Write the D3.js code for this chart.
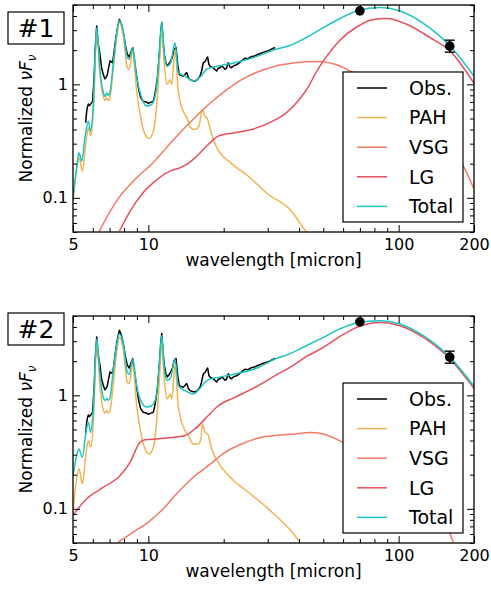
<!DOCTYPE html>
<html>
<head>
<meta charset="utf-8">
<script src="https://cdn.jsdelivr.net/npm/d3@7"></script>
<style>
  body { margin: 0; background: #fff; }
  svg { display: block; font-family: "DejaVu Sans", sans-serif; }
</style>
</head>
<body>
<svg id="chart" width="491" height="593"></svg>
<script>
// ---------------- data ----------------
const seriesNames = ["Obs.", "PAH", "VSG", "LG", "Total"];
const xTickValues = [5, 10, 100, 200];
const xTickLabels = ["5", "10", "100", "200"];
const xMinorTicks = [6, 7, 8, 9, 20, 30, 40, 50, 60, 70, 80, 90];
const yTickValues = [0.1, 1];
const yTickLabels = ["0.1", "1"];
const yMinorTicks = [0.05, 0.06, 0.07, 0.08, 0.09, 0.2, 0.3, 0.4, 0.5, 0.6, 0.7, 0.8, 0.9, 2, 3, 4, 5];

// observed spectrum [wavelength micron, normalized nuFnu] (same object in both panels)
const obsSpectrum = [
  [5.62,0.46],[5.67,0.58],[5.72,0.64],[5.76,0.67],[5.82,0.65],[5.88,0.67],[5.94,0.69],[5.99,0.71],
  [6.07,1.15],[6.15,2.3],[6.22,3.27],[6.3,2.3],[6.41,1.84],[6.5,1.4],[6.61,1.22],[6.7,1.12],[6.77,1.15],
  [6.85,1.2],[6.92,1.36],[7.03,1.61],[7.12,1.58],[7.2,1.55],[7.36,2.25],[7.5,3.0],[7.66,3.75],[7.8,3.4],
  [7.94,2.86],[8.1,2.2],[8.24,1.84],[8.39,1.74],[8.5,1.9],[8.66,2.11],[8.8,1.6],[8.98,1.18],[9.15,0.9],
  [9.32,0.76],[9.54,0.71],[9.8,0.7],[10.0,0.68],[10.15,0.69],[10.3,0.7],[10.47,0.71],[10.6,0.8],
  [10.73,0.935],[10.9,1.2],[11.06,1.84],[11.2,2.8],[11.31,3.5],[11.45,2.4],[11.58,1.84],[11.75,1.55],
  [11.9,1.45],[12.05,1.5],[12.28,1.61],[12.5,1.75],[12.7,2.05],[12.9,2.11],[13.1,1.5],[13.29,1.22],
  [13.5,1.2],[13.79,1.18],[14.0,1.22],[14.23,1.27],[14.45,1.15],[14.67,1.1],[15.0,1.08],[15.36,1.07],
  [15.7,1.1],[16.08,1.18],[16.3,1.3],[16.58,1.55],[16.9,1.6],[17.1,1.7],[17.26,1.74],[17.45,1.5],
  [17.63,1.45],[17.9,1.42],[18.18,1.4],[18.45,1.35],[18.75,1.31],[19.0,1.38],[19.3,1.4],[19.64,1.45],
  [19.9,1.42],[20.2,1.36],[20.5,1.38],[20.87,1.55],[21.2,1.42],[21.5,1.4],[21.9,1.46],[22.4,1.48],
  [22.88,1.52],[23.5,1.6],[24.33,1.7],[25.0,1.68],[25.9,1.76],[26.6,1.78],[27.5,1.84],[28.5,1.9],
  [29.5,1.95],[30.5,2.0],[31.3,2.06],[32.06,2.11]
];
// photometry points
const photWave = [70, 160];
const photFlux = [4.44, 2.17];
const photErrLow = [4.44, 1.92];
const photErrHigh = [4.44, 2.45];

// panel #1 model components
const pah1 = [
  [5.0,0.095],[5.17,0.178],[5.29,0.225],[5.45,0.172],[5.62,0.296],[5.76,0.415],[5.88,0.35],[6.03,0.58],
  [6.22,2.95],[6.41,1.2],[6.61,0.78],[6.72,0.72],[6.82,0.76],[6.92,0.72],[7.03,0.77],[7.24,1.36],
  [7.47,2.58],[7.66,3.5],[7.94,2.67],[8.24,1.4],[8.39,1.36],[8.66,1.97],[8.98,0.873],[9.32,0.51],
  [9.7,0.362],[10.06,0.334],[10.47,0.387],[10.86,0.763],[11.13,1.84],[11.31,3.1],[11.58,1.5],[11.9,1.0],
  [12.2,1.1],[12.4,1.0],[12.78,2.03],[13.17,0.873],[13.38,0.71],[13.7,0.6],[14.01,0.54],[14.3,0.5],
  [14.67,0.42],[15.36,0.4],[15.93,0.43],[16.43,0.6],[16.84,0.52],[17.11,0.51],[17.91,0.36],[18.75,0.278],
  [21.53,0.2],[25.08,0.155],[30.15,0.107],[36.81,0.079],[42.92,0.05],[45,0.045]
];
const vsg1 = [
  [6.35,0.05],[7.03,0.076],[7.7,0.103],[8.98,0.15],[10.47,0.205],[12.2,0.3],[13.38,0.375],[15.36,0.51],
  [17.36,0.66],[20.24,0.87],[23.6,1.1],[29.25,1.36],[38.55,1.55],[47.05,1.59],[58.3,1.45],[63.9,1.31],
  [80,1.08],[100,0.8],[130,0.5],[160,0.29],[181.3,0.19],[200,0.12]
];
const lg1 = [
  [7.66,0.0508],[8.45,0.076],[9.4,0.107],[10.47,0.136],[12.2,0.172],[13.38,0.184],[14.23,0.197],
  [15.36,0.225],[17.36,0.295],[19.03,0.35],[22.19,0.375],[25.88,0.4],[31.11,0.47],[35.15,0.55],
  [36.81,0.6],[40.36,0.75],[42.92,0.9],[47.05,1.3],[50,1.6],[58.3,2.45],[68,3.2],[79.2,3.72],
  [89.6,3.8],[107.7,3.38],[133.5,2.58],[160.4,1.97],[200,1.02]
];
const total1 = [
  [5.0,0.1],[5.17,0.184],[5.28,0.25],[5.42,0.21],[5.58,0.338],[5.76,0.474],[5.88,0.387],[6.03,0.666],
  [6.22,3.16],[6.41,1.31],[6.61,0.85],[6.72,0.78],[6.82,0.84],[6.92,0.8],[7.03,0.86],[7.24,1.5],
  [7.47,2.76],[7.66,3.67],[7.94,2.95],[8.24,1.72],[8.39,1.66],[8.66,2.11],[8.98,1.15],[9.4,0.763],
  [9.85,0.643],[10.31,0.666],[10.73,0.873],[11.06,1.84],[11.31,3.5],[11.58,1.84],[11.9,1.45],[12.28,1.55],
  [12.78,2.33],[13.17,1.27],[14.01,1.18],[15.12,1.07],[16.23,1.18],[17.11,1.36],[19.03,1.45],[22.19,1.55],
  [27.5,1.78],[32.06,2.03],[36.81,2.2],[42.92,2.6],[50,3.16],[58.3,3.8],[68,4.43],[84.2,4.75],
  [101.2,4.43],[125.5,3.45],[160.4,2.18],[200,1.18]
];

// panel #2 model components
const pah2 = [
  [5.0,0.095],[5.17,0.184],[5.29,0.225],[5.45,0.166],[5.62,0.294],[5.76,0.399],[5.88,0.35],[6.03,0.578],
  [6.22,2.93],[6.41,1.2],[6.61,0.74],[6.72,0.7],[6.82,0.73],[6.92,0.7],[7.03,0.74],[7.24,1.22],
  [7.47,2.39],[7.66,3.25],[7.94,2.56],[8.24,1.3],[8.39,1.27],[8.66,1.89],[8.98,0.81],[9.32,0.472],
  [9.7,0.337],[10.06,0.305],[10.47,0.349],[10.86,0.708],[11.13,1.71],[11.31,2.95],[11.58,1.39],[11.9,0.93],
  [12.2,1.03],[12.4,0.93],[12.78,1.83],[13.17,0.81],[13.38,0.66],[14.01,0.489],[14.44,0.442],[15.12,0.373],
  [15.83,0.373],[16.23,0.413],[16.43,0.56],[16.84,0.472],[17.26,0.457],[17.91,0.337],[19.03,0.257],
  [21.53,0.184],[25.08,0.14],[30.15,0.1],[38.55,0.058],[41,0.048]
];
const vsg2 = [
  [7.58,0.0508],[8.71,0.0623],[10.0,0.0764],[11.48,0.1],[12.78,0.131],[14.9,0.184],[17.36,0.24],
  [20.24,0.315],[23.6,0.373],[28.38,0.427],[38.55,0.457],[44.25,0.47],[50,0.457],[60.1,0.386],
  [80,0.3],[100,0.215],[125,0.14],[145,0.095],[155.6,0.0713],[165.3,0.0508]
];
const lg2 = [
  [5.0,0.088],[5.67,0.1225],[6.61,0.155],[7.7,0.196],[8.45,0.257],[9.26,0.386],[9.7,0.407],[10.8,0.413],
  [13.38,0.433],[14.01,0.442],[15.36,0.506],[17.36,0.663],[19.03,0.81],[22.19,0.96],[27.5,1.22],
  [32.06,1.49],[36.81,1.76],[42.92,2.2],[50,2.64],[58.3,3.3],[68,3.97],[84.2,4.39],[101.2,4.1],
  [125.5,3.24],[160.4,2.09],[200,1.15]
];
const total2 = [
  [5.0,0.195],[5.17,0.294],[5.28,0.337],[5.45,0.285],[5.62,0.457],[5.76,0.578],[5.88,0.472],[6.03,0.759],
  [6.22,3.14],[6.41,1.49],[6.61,0.95],[6.72,0.9],[6.82,0.94],[6.92,0.9],[7.03,0.95],[7.24,1.65],
  [7.47,2.74],[7.66,3.47],[7.94,2.84],[8.24,1.59],[8.39,1.53],[8.66,2.09],[8.98,1.22],[9.4,0.868],
  [9.85,0.79],[10.31,0.81],[10.73,0.96],[11.06,1.83],[11.31,3.35],[11.58,1.71],[11.9,1.35],[12.28,1.44],
  [12.78,2.09],[13.17,1.22],[14.01,1.1],[15.12,1.03],[16.23,1.18],[17.11,1.35],[19.03,1.44],[22.19,1.54],
  [27.5,1.76],[32.06,2.09],[36.81,2.33],[42.92,2.75],[50,3.24],[58.3,3.85],[68,4.34],[84.2,4.54],
  [101.2,4.25],[125.5,3.35],[160.4,2.16],[200,1.2]
];

// ---------------- drawing ----------------
const colors = { "Obs.": "#000000", "PAH": "#f3b352", "VSG": "#f47a64", "LG": "#ea4f5c", "Total": "#1cc5c0" };
const svg = d3.select("#chart");
const plotLeft = 73, plotRight = 474, plotH = 227;
const x = d3.scaleLog().domain([5, 200]).range([plotLeft, plotRight]);

const panels = [
  { tag: "#1", top: 5, tagTop: 12, legendTop: 72, pah: pah1, vsg: vsg1, lg: lg1, total: total1 },
  { tag: "#2", top: 316, tagTop: 313, legendTop: 383, pah: pah2, vsg: vsg2, lg: lg2, total: total2 }
];

panels.forEach((p, i) => {
  const y = d3.scaleLog().domain([0.05, 5]).range([p.top + plotH, p.top]);
  const g = svg.append("g");
  const cid = "clip" + i;
  svg.append("clipPath").attr("id", cid).append("rect")
    .attr("x", plotLeft).attr("y", p.top).attr("width", plotRight - plotLeft).attr("height", plotH);

  const smooth = d3.line().x(d => x(d[0])).y(d => y(d[1])).curve(d3.curveMonotoneX);
  const straight = d3.line().x(d => x(d[0])).y(d => y(d[1]));

  const plot = g.append("g").attr("clip-path", `url(#${cid})`);
  const drawn = [
    ["Obs.", obsSpectrum, straight],
    ["PAH", p.pah, smooth],
    ["VSG", p.vsg, smooth],
    ["LG", p.lg, smooth],
    ["Total", p.total, smooth]
  ];
  drawn.forEach(([name, data, gen]) => {
    plot.append("path").datum(data).attr("d", gen)
      .attr("fill", "none").attr("stroke", colors[name])
      .attr("stroke-width", 1.5)
      .attr("stroke-linejoin", "round");
  });

  // photometry with error bars
  photWave.forEach((w, k) => {
    const px = x(w);
    if (photErrHigh[k] > photErrLow[k]) {
      g.append("line").attr("x1", px).attr("x2", px)
        .attr("y1", y(photErrLow[k])).attr("y2", y(photErrHigh[k]))
        .attr("stroke", "#000").attr("stroke-width", 1.4);
      [photErrLow[k], photErrHigh[k]].forEach(v => {
        g.append("line").attr("x1", px - 5).attr("x2", px + 5)
          .attr("y1", y(v)).attr("y2", y(v)).attr("stroke", "#000").attr("stroke-width", 1.4);
      });
    }
    g.append("circle").attr("cx", px).attr("cy", y(photFlux[k])).attr("r", 4.8).attr("fill", "#000");
  });

  // axes (ticks inward on all sides)
  const bottomY = p.top + plotH;
  const addAxis = (axis, tx, ty) => {
    const a = g.append("g").attr("transform", `translate(${tx},${ty})`).call(axis);
    a.select(".domain").remove();
    a.selectAll("line").attr("stroke", "#000").attr("stroke-width", 1);
    a.selectAll("text").attr("font-size", 16).attr("fill", "#000").attr("font-family", "DejaVu Sans, sans-serif");
    return a;
  };
  addAxis(d3.axisBottom(x).tickValues(xTickValues).tickFormat((d, j) => xTickLabels[j]).tickSize(-7).tickPadding(7), 0, bottomY);
  addAxis(d3.axisBottom(x).tickValues(xMinorTicks).tickFormat("").tickSize(-4), 0, bottomY);
  addAxis(d3.axisTop(x).tickValues(xTickValues).tickFormat("").tickSize(-7), 0, p.top);
  addAxis(d3.axisTop(x).tickValues(xMinorTicks).tickFormat("").tickSize(-4), 0, p.top);
  addAxis(d3.axisLeft(y).tickValues(yTickValues).tickFormat((d, j) => yTickLabels[j]).tickSize(-7).tickPadding(5), plotLeft, 0);
  addAxis(d3.axisLeft(y).tickValues(yMinorTicks).tickFormat("").tickSize(-4), plotLeft, 0);
  addAxis(d3.axisRight(y).tickValues(yTickValues).tickFormat("").tickSize(-7), plotRight, 0);
  addAxis(d3.axisRight(y).tickValues(yMinorTicks).tickFormat("").tickSize(-4), plotRight, 0);

  // frame
  g.append("rect").attr("x", plotLeft).attr("y", p.top)
    .attr("width", plotRight - plotLeft).attr("height", plotH)
    .attr("fill", "none").attr("stroke", "#000").attr("stroke-width", 1.3);

  // axis labels
  g.append("text").attr("x", (plotLeft + plotRight) / 2).attr("y", bottomY + 34)
    .attr("text-anchor", "middle").attr("font-size", 17).text("wavelength [micron]");
  const yl = g.append("text")
    .attr("transform", `translate(31.5,${p.top + plotH / 2}) rotate(-90)`)
    .attr("text-anchor", "middle").attr("font-size", 17);
  yl.append("tspan").text("Normalized ");
  yl.append("tspan").attr("font-style", "italic").text("νF");
  yl.append("tspan").attr("font-style", "italic").attr("font-size", 12).attr("dy", 4).text("ν");

  // legend
  const lx = 343, lw = 120, lh = 150;
  const lg = g.append("g");
  lg.append("rect").attr("x", lx).attr("y", p.legendTop).attr("width", lw).attr("height", lh)
    .attr("fill", "#fff").attr("stroke", "#000").attr("stroke-width", 1.2);
  seriesNames.forEach((name, k) => {
    const cy = p.legendTop + 16 + k * 29.6;
    lg.append("line").attr("x1", 357).attr("x2", 387).attr("y1", cy).attr("y2", cy)
      .attr("stroke", colors[name]).attr("stroke-width", 1.5);
    lg.append("text").attr("x", 409).attr("y", cy).attr("dy", "0.36em")
      .attr("font-size", 19).text(name);
  });

  // panel tag
  g.append("rect").attr("x", 8).attr("y", p.tagTop).attr("width", 56).attr("height", 32)
    .attr("fill", "#fff").attr("stroke", "#000").attr("stroke-width", 1.2);
  g.append("text").attr("x", 36).attr("y", p.tagTop + 25).attr("text-anchor", "middle")
    .attr("font-size", 25).text(p.tag);
});
</script>
</body>
</html>
